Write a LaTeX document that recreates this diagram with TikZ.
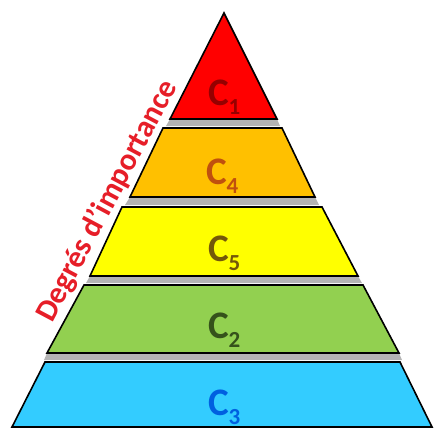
\documentclass[tikz,border=0pt]{standalone}
\usepackage{fontspec}
\setmainfont{Carlito}
\definecolor{cred}{HTML}{FF0000}
\definecolor{corange}{HTML}{FFC000}
\definecolor{cyellow}{HTML}{FFFF00}
\definecolor{cgreen}{HTML}{92D050}
\definecolor{cblue}{HTML}{33CCFF}
\definecolor{tred}{HTML}{950000}
\definecolor{torange}{HTML}{C0500E}
\definecolor{tyellow}{HTML}{74580A}
\definecolor{tgreen}{HTML}{35521B}
\definecolor{tblue}{HTML}{0060E0}
\definecolor{lbl}{HTML}{E61E28}
\definecolor{shadowgray}{HTML}{B4B4B4}
\tikzset{
  layer/.style={draw=black, line width=1.6pt, line join=miter},
  gap/.style={fill=shadowgray, draw=none},
  ctext/.style={font=\bfseries\fontsize{39}{40}\selectfont, inner sep=0pt},
  lbltext/.style={font=\bfseries\fontsize{31}{32}\selectfont, text=lbl, inner sep=0pt}
}
\newcommand{\Cl}[1]{C\kern-0.5pt\raisebox{-9pt}{\fontsize{23}{24}\selectfont #1}}
\begin{document}
\begin{tikzpicture}[x=1pt,y=-1pt]
\useasboundingbox (0,0) rectangle (434,432);
% shadows / gaps
\fill[gap] (170,119) -- (277,119) -- (280,126) -- (166,126) -- cycle;
\fill[gap] (130,197) -- (315,197) -- (319,205) -- (125,205) -- cycle;
\fill[gap] (90,276) -- (358,276) -- (362,283) -- (86,283) -- cycle;
\fill[gap] (47,353) -- (399,353) -- (402,360) -- (44,360) -- cycle;
% layers
\draw[layer, fill=cred] (224,13) -- (277,119) -- (170,119) -- cycle;
\draw[layer, fill=corange] (163,128) -- (282,128) -- (315,197) -- (130,197) -- cycle;
\draw[layer, fill=cyellow] (122,207) -- (322,207) -- (358,276) -- (90,276) -- cycle;
\draw[layer, fill=cgreen] (84,285) -- (363,285) -- (399,353) -- (47,353) -- cycle;
\draw[layer, fill=cblue] (45,362) -- (400,362) -- (432,427) -- (12,427) -- cycle;
% texts
\node[ctext, text=tred] (c1) at (224.5,97) {\Cl{1}};
\node[ctext, text=torange] (c4) at (222.5,176) {\Cl{4}};
\node[ctext, text=tyellow] (c5) at (224.5,253) {\Cl{5}};
\node[ctext, text=tgreen] (c2) at (224.5,330) {\Cl{2}};
\node[ctext, text=tblue] (c3) at (224.5,407) {\Cl{3}};
\node[lbltext, rotate=62, anchor=base] (lbl) at (115,205) {Degrés d'importance};
\end{tikzpicture}
\end{document}
